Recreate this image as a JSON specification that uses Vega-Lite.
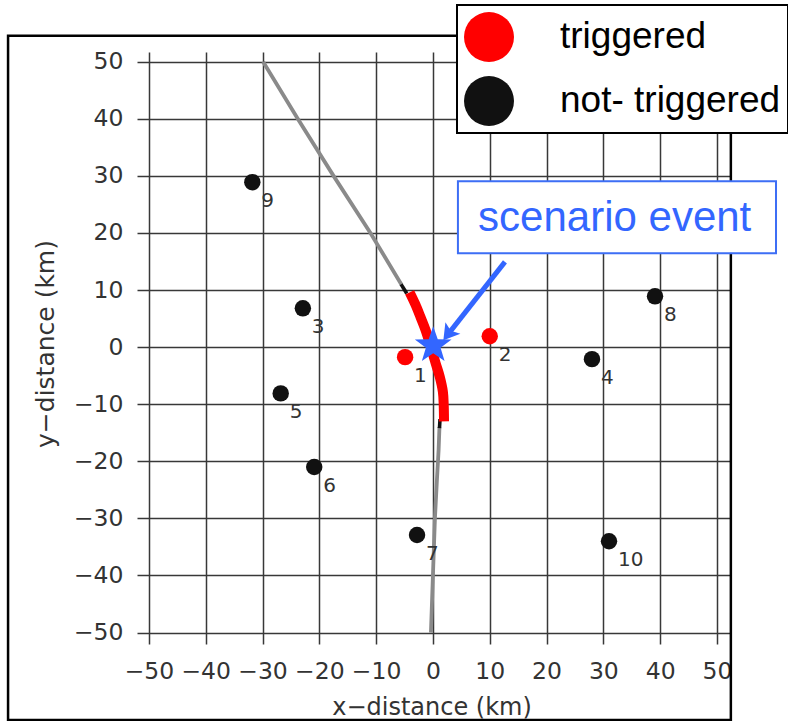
{
  "$schema": "https://vega.github.io/schema/vega-lite/v6.json",
  "width": 593,
  "height": 592,
  "autosize": {"type": "none"},
  "padding": {"left": 137, "top": 52, "right": 58, "bottom": 77},
  "background": "white",
  "config": {
    "view": {"stroke": null},
    "legend": {"strokeWidth": 2},
    "axis": {
      "domain": false,
      "ticks": false,
      "tickSize": 0,
      "grid": true,
      "gridColor": "#383838",
      "gridWidth": 1.5,
      "labelFont": "DejaVu Sans",
      "labelFontSize": 23.5,
      "labelColor": "#333333",
      "labelOverlap": false,
      "labelFlush": false,
      "titleFont": "DejaVu Sans",
      "titleFontWeight": "normal",
      "titleColor": "#333333"
    }
  },
  "datasets": {
    "frame": [{"x": -74.8, "x2": 52.45, "y": 54.55, "y2": -65.3}],
    "grayTrack": [
      {"part": "n", "o": 1, "x": -29.9, "y": 50},
      {"part": "n", "o": 2, "x": -23.8, "y": 40},
      {"part": "n", "o": 3, "x": -17.5, "y": 30},
      {"part": "n", "o": 4, "x": -11.0, "y": 20},
      {"part": "n", "o": 5, "x": -5.5, "y": 10.9},
      {"part": "s", "o": 1, "x": 1.15, "y": -14.0},
      {"part": "s", "o": 2, "x": 1.0, "y": -18},
      {"part": "s", "o": 3, "x": 0.7, "y": -23.3},
      {"part": "s", "o": 4, "x": 0.35, "y": -30},
      {"part": "s", "o": 5, "x": 0.0, "y": -40},
      {"part": "s", "o": 6, "x": -0.35, "y": -50}
    ],
    "tickMarks": [
      {"x": -5.6, "y": 11.0, "x2": -4.6, "y2": 9.4},
      {"x": 1.25, "y": -12.6, "x2": 1.15, "y2": -14.2}
    ],
    "redTrack": [
      {"o": 1, "x": -4.1, "y": 9.6},
      {"o": 2, "x": -3.1, "y": 7.5},
      {"o": 3, "x": -2.2, "y": 5.3},
      {"o": 4, "x": -1.3, "y": 3.0},
      {"o": 5, "x": -0.5, "y": 0.5},
      {"o": 6, "x": 0.47, "y": -2.8},
      {"o": 7, "x": 1.2, "y": -5.2},
      {"o": 8, "x": 1.75, "y": -7.8},
      {"o": 9, "x": 1.9, "y": -10.2},
      {"o": 10, "x": 1.95, "y": -13.0}
    ],
    "stations": [
      {"id": "1", "x": -4.9, "y": -1.75, "status": "triggered"},
      {"id": "2", "x": 10.0, "y": 1.9, "status": "triggered"},
      {"id": "3", "x": -22.9, "y": 6.8, "status": "not- triggered"},
      {"id": "4", "x": 28.0, "y": -2.1, "status": "not- triggered"},
      {"id": "5", "x": -26.8, "y": -8.1, "status": "not- triggered"},
      {"id": "6", "x": -20.9, "y": -21.0, "status": "not- triggered"},
      {"id": "7", "x": -2.8, "y": -32.9, "status": "not- triggered"},
      {"id": "8", "x": 39.1, "y": 8.9, "status": "not- triggered"},
      {"id": "9", "x": -31.8, "y": 28.9, "status": "not- triggered"},
      {"id": "10", "x": 31.0, "y": -34.0, "status": "not- triggered"}
    ],
    "event": [{"x": 0.05, "y": 0.3}],
    "arrowShaft": [{"x": 12.68, "y": 14.94, "x2": 2.92, "y2": 2.59}],
    "arrowHead": [{"x": 2.92, "y": 2.59}],
    "noteBox": [{"x": 4.4, "x2": 60.4, "y": 29.07, "y2": 16.46}],
    "noteText": [{"x": 32.0, "y": 20.3, "label": "scenario event"}]
  },
  "encoding": {
    "x": {
      "field": "x",
      "type": "quantitative",
      "scale": {"domain": [-52.1, 52.3], "nice": false, "zero": false},
      "axis": {
        "values": [-50, -40, -30, -20, -10, 0, 10, 20, 30, 40, 50],
        "title": "x−distance (km)",
        "titleFontSize": 24,
        "labelBaseline": "alphabetic",
        "labelPadding": 34,
        "titleX": 294.5,
        "titleY": 70,
        "titleAlign": "center",
        "titleBaseline": "alphabetic"
      }
    },
    "y": {
      "field": "y",
      "type": "quantitative",
      "scale": {"domain": [-52.0, 51.7], "nice": false, "zero": false},
      "axis": {
        "values": [-50, -40, -30, -20, -10, 0, 10, 20, 30, 40, 50],
        "title": "y−distance (km)",
        "titleFontSize": 25,
        "labelPadding": 14,
        "titleX": -84,
        "titleY": 291.5,
        "titleAngle": -90,
        "titleAlign": "center",
        "titleBaseline": "alphabetic"
      }
    }
  },
  "layer": [
    {
      "data": {"name": "frame"},
      "mark": {"type": "rect", "filled": false, "stroke": "black", "strokeWidth": 2.5},
      "encoding": {"x2": {"field": "x2"}, "y2": {"field": "y2"}}
    },
    {
      "data": {"name": "grayTrack"},
      "mark": {"type": "line", "color": "#8a8a8a", "strokeWidth": 3.8},
      "encoding": {"detail": {"field": "part"}, "order": {"field": "o", "type": "quantitative"}}
    },
    {
      "data": {"name": "tickMarks"},
      "mark": {"type": "rule", "color": "#111111", "strokeWidth": 3.6},
      "encoding": {"x2": {"field": "x2"}, "y2": {"field": "y2"}}
    },
    {
      "data": {"name": "redTrack"},
      "mark": {"type": "line", "color": "#ff0000", "strokeWidth": 10, "interpolate": "catmull-rom"},
      "encoding": {"order": {"field": "o", "type": "quantitative"}}
    },
    {
      "data": {"name": "stations"},
      "mark": {"type": "point", "filled": true, "size": 270, "opacity": 1, "strokeWidth": 0},
      "encoding": {
        "color": {
          "field": "status",
          "type": "nominal",
          "scale": {"domain": ["triggered", "not- triggered"], "range": ["#ff0000", "#111111"]},
          "legend": {
            "orient": "none",
            "legendX": 320,
            "legendY": -47,
            "title": null,
            "padding": 7,
            "strokeColor": "black",
            "fillColor": "white",
            "symbolType": "circle",
            "symbolSize": 2500,
            "symbolStrokeWidth": 0,
            "symbolOpacity": 1,
            "labelFont": "Liberation Sans",
            "labelFontSize": 37,
            "labelColor": "black",
            "labelOffset": 46,
            "labelLimit": 400,
            "rowPadding": 14
          }
        }
      }
    },
    {
      "data": {"name": "stations"},
      "mark": {"type": "text", "align": "left", "baseline": "middle", "dx": 9, "dy": 19, "font": "DejaVu Sans", "fontSize": 20, "color": "#333333"},
      "encoding": {"text": {"field": "id", "type": "nominal"}}
    },
    {
      "data": {"name": "event"},
      "mark": {
        "type": "point",
        "shape": "M0,-1L0.235,-0.324L0.951,-0.309L0.38,0.124L0.588,0.809L0,0.4L-0.588,0.809L-0.38,0.124L-0.951,-0.309L-0.235,-0.324Z",
        "filled": true,
        "size": 1490,
        "opacity": 1,
        "strokeWidth": 0,
        "color": "#3366ff"
      }
    },
    {
      "data": {"name": "arrowShaft"},
      "mark": {"type": "rule", "color": "#3366ff", "strokeWidth": 5},
      "encoding": {"x2": {"field": "x2"}, "y2": {"field": "y2"}}
    },
    {
      "data": {"name": "arrowHead"},
      "mark": {
        "type": "point",
        "shape": "M0,-1L0.95,0.55L0,0.2L-0.95,0.55Z",
        "filled": true,
        "size": 400,
        "angle": 218,
        "opacity": 1,
        "strokeWidth": 0,
        "color": "#3366ff"
      }
    },
    {
      "data": {"name": "noteBox"},
      "mark": {"type": "rect", "fill": "white", "stroke": "#3d6ef5", "strokeWidth": 2},
      "encoding": {"x2": {"field": "x2"}, "y2": {"field": "y2"}}
    },
    {
      "data": {"name": "noteText"},
      "mark": {"type": "text", "font": "Liberation Sans", "fontSize": 42, "color": "#3366ff", "align": "center", "baseline": "alphabetic"},
      "encoding": {"text": {"field": "label", "type": "nominal"}}
    }
  ]
}
